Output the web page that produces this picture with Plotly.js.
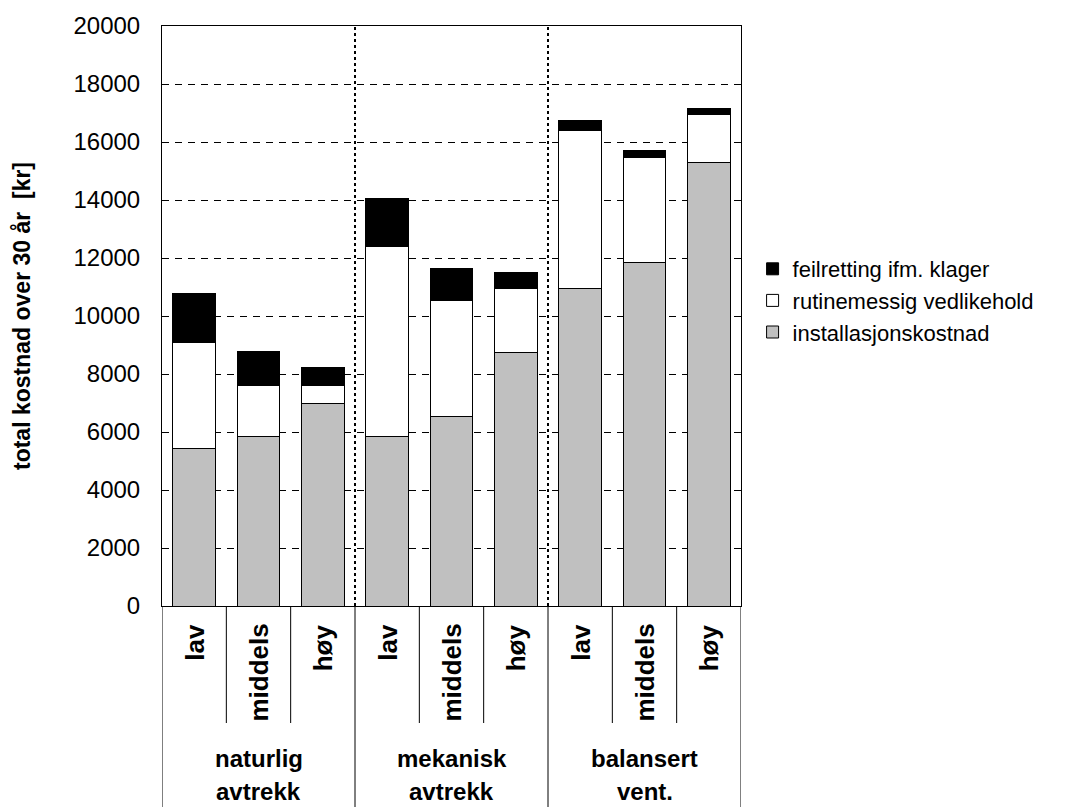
<!DOCTYPE html>
<html><head><meta charset="utf-8">
<script src="https://cdn.plot.ly/plotly-3.0.1.min.js"></script>
<style>html,body{margin:0;padding:0;background:#fff}</style>
</head><body><div id="chart" style="width:1084px;height:807px"></div>
<script>
// ---- data ----
const subLabels = ["lav", "middels", "høy", "lav", "middels", "høy", "lav", "middels", "høy"];
const groupLine1 = ["naturlig", "mekanisk", "balansert"];
const groupLine2 = ["avtrekk", "avtrekk", "vent."];
const installasjonskostnad = [5440, 5860, 6970, 5850, 6540, 8750, 10950, 11850, 15300];
const rutinemessig = [3640, 1760, 650, 6530, 3990, 2190, 5430, 3630, 1640];
const feilretting = [1680, 1140, 590, 1680, 1110, 570, 370, 230, 220];
const seriesNames = ["installasjonskostnad", "rutinemessig vedlikehold", "feilretting ifm. klager"];
const yTickVals = [0, 2000, 4000, 6000, 8000, 10000, 12000, 14000, 16000, 18000, 20000];
const yTitle = "total kostnad over 30 år  [kr]";

// ---- build ----
const FONT = "Arial, 'Liberation Sans', sans-serif";
const xs = subLabels.map((_, i) => i);
const perGroup = subLabels.length / groupLine1.length;
const colors = ["#C0C0C0", "#FFFFFF", "#000000"];
const values = [installasjonskostnad, rutinemessig, feilretting];

const traces = values.map((v, k) => ({
  type: "bar", x: xs, y: v, name: seriesNames[k],
  marker: {color: colors[k], line: {color: "#000", width: 1}},
  hoverinfo: "skip"
}));

const shapes = [];
// dotted group separators inside plot
for (let g = 1; g < groupLine1.length; g++) {
  const xb = g * perGroup - 0.5;
  shapes.push({type: "line", xref: "x", yref: "paper", x0: xb, x1: xb, y0: 0, y1: 1,
    line: {color: "#000", width: 2, dash: "dot"}});
}
// table lines below axis
const yPix = p => (606 - p) / 580;
for (let i = 0; i <= subLabels.length; i++) {
  const xb = i - 0.5;
  const isGroup = (i % perGroup) === 0;
  shapes.push({type: "line", xref: "x", yref: "paper", x0: xb, x1: xb, y0: 0,
    y1: isGroup ? yPix(810) : yPix(723), line: {color: "#000", width: 1}});
}

const annotations = [];
subLabels.forEach((s, i) => annotations.push({
  xref: "x", yref: "paper", x: i, y: yPix(622), text: s, textangle: -90,
  xanchor: "center", yanchor: "top", showarrow: false,
  font: {family: FONT, size: 26, color: "#000", weight: "bold"}
}));
groupLine1.forEach((s, g) => {
  const xc = g * perGroup + (perGroup - 1) / 2;
  annotations.push({xref: "x", yref: "paper", x: xc, y: yPix(758), text: s, showarrow: false,
    xanchor: "center", yanchor: "middle", font: {family: FONT, size: 24, color: "#000", weight: "bold"}});
  annotations.push({xref: "x", yref: "paper", x: xc, y: yPix(807), text: groupLine2[g], showarrow: false,
    xanchor: "center", yanchor: "bottom", font: {family: FONT, size: 24, color: "#000", weight: "bold"}});
});

const layout = {
  width: 1084, height: 807,
  margin: {l: 162, r: 343, t: 26, b: 201, pad: 0},
  paper_bgcolor: "#fff", plot_bgcolor: "#fff",
  barmode: "stack", bargap: 0.34,
  font: {family: FONT, size: 22, color: "#000"},
  showlegend: true,
  legend: {x: 1.02, y: yPix(248), xanchor: "left", yanchor: "top", traceorder: "reversed",
    font: {family: FONT, size: 22, color: "#000"}, bgcolor: "rgba(0,0,0,0)"},
  xaxis: {range: [-0.5, subLabels.length - 0.5], showticklabels: false, ticks: "",
    showgrid: false, zeroline: false, showline: true, linecolor: "#000", linewidth: 1, mirror: true,
    fixedrange: true},
  yaxis: {range: [0, 20000], tickvals: yTickVals, ticktext: yTickVals.map(String),
    ticks: "inside", ticklen: 6, tickcolor: "#000", ticklabelstandoff: 16,
    showgrid: true, gridcolor: "#000", gridwidth: 1, griddash: "7px,6px",
    zeroline: false, showline: true, linecolor: "#000", linewidth: 1, mirror: true,
    tickfont: {family: FONT, size: 24, color: "#000"},
    title: {text: yTitle, standoff: 36, font: {family: FONT, size: 23, color: "#000", weight: "bold"}},
    fixedrange: true},
  shapes: shapes, annotations: annotations
};

Plotly.newPlot("chart", traces, layout, {displayModeBar: false, staticPlot: true});
</script></body></html>
